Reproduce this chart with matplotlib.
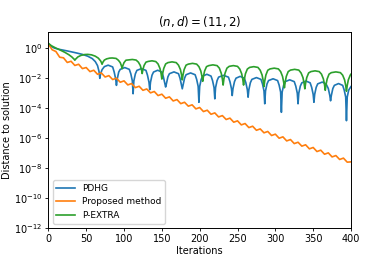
import numpy as np
import matplotlib.pyplot as plt

# values (log10 of distance), at selected iterations
pdhg_iter = [0, 3, 8, 15, 25, 35, 45, 52, 58, 62, 65, 67, 68, 69, 71, 74, 79,
             85, 87, 89, 90, 91, 93, 95, 101,
             107, 109, 111, 112, 113, 115, 117, 123,
             129, 131, 133, 134, 135, 137, 139, 144.5,
             150, 152, 154, 155, 156, 158, 160, 166,
             172, 174, 176, 177, 178, 180, 182, 188,
             194, 196, 198, 199, 200, 202, 204, 209.5,
             215, 217, 219, 220, 221, 223, 225, 231.5,
             238, 240, 242, 243, 244, 246, 248, 253.5,
             259, 261, 263, 264, 265, 267, 269, 275,
             281, 283, 285, 286, 287, 289, 291, 297,
             303, 305, 307, 308, 309, 311, 313, 319,
             325, 327, 329, 330, 331, 333, 335, 340.5,
             346, 348, 350, 351, 352, 354, 356, 362,
             367, 370, 372, 373, 374, 376, 378, 383.5,
             389, 391, 393, 394, 395, 397, 400]
pdhg_log = [0.32, 0.15, 0.02, -0.07, -0.17, -0.28, -0.40, -0.52, -0.68, -0.88, -1.15, -1.55, -2.0, -1.7, -1.42, -1.22, -1.12,
            -1.24, -1.58, -2.05, -2.47, -2.05, -1.58, -1.40, -1.28,
            -1.40, -1.70, -2.17, -3.03, -2.17, -1.70, -1.47, -1.35,
            -1.47, -1.79, -2.26, -2.76, -2.26, -1.79, -1.58, -1.46,
            -1.58, -1.90, -2.37, -2.58, -2.37, -1.90, -1.69, -1.57,
            -1.69, -1.99, -2.46, -2.70, -2.46, -1.99, -1.76, -1.64,
            -1.76, -2.07, -2.54, -3.60, -2.54, -2.07, -1.85, -1.73,
            -1.85, -2.15, -2.62, -3.37, -2.62, -2.15, -1.92, -1.80,
            -1.92, -2.22, -2.69, -3.15, -2.69, -2.22, -1.99, -1.87,
            -1.99, -2.29, -2.76, -3.26, -2.76, -2.29, -2.07, -1.95,
            -2.07, -2.37, -2.84, -3.70, -2.84, -2.37, -2.15, -2.03,
            -2.15, -2.45, -2.92, -4.27, -2.92, -2.45, -2.22, -2.10,
            -2.22, -2.52, -2.99, -3.70, -2.99, -2.52, -2.30, -2.18,
            -2.30, -2.60, -3.07, -3.60, -3.07, -2.60, -2.37, -2.25,
            -2.37, -2.68, -3.15, -3.50, -3.15, -2.68, -2.47, -2.35,
            -2.47, -2.78, -3.25, -4.83, -3.25, -2.78, -2.55]

prop_iter = list(range(0, 401, 5))
prop_log = [0.30, -0.09, -0.21, -0.59, -0.63, -0.94, -0.86, -1.14, -1.06, -1.35,
            -1.28, -1.55, -1.46, -1.73, -1.64, -1.91, -1.82, -2.08, -1.99, -2.26,
            -2.17, -2.44, -2.35, -2.62, -2.53, -2.80, -2.71, -2.97, -2.88, -3.15,
            -3.06, -3.33, -3.24, -3.51, -3.42, -3.69, -3.60, -3.86, -3.77, -4.04,
            -3.95, -4.22, -4.13, -4.40, -4.31, -4.58, -4.49, -4.75, -4.66, -4.93,
            -4.84, -5.11, -5.02, -5.29, -5.20, -5.47, -5.38, -5.64, -5.55, -5.82,
            -5.73, -6.00, -5.91, -6.18, -6.09, -6.36, -6.27, -6.53, -6.44, -6.71,
            -6.62, -6.89, -6.80, -7.07, -6.98, -7.25, -7.16, -7.42, -7.33, -7.60,
            -7.58]

extra_iter = [0, 4, 10, 16, 22, 27, 31, 34, 35, 36, 39, 43, 48, 52, 57, 62, 66, 69, 70, 71, 72, 74, 77, 81, 84.5,
              89.5, 92.5, 95, 96.5, 97.5, 98.5, 100, 102.5, 105.5, 111,
              116, 119, 121.5, 123, 124, 125, 126.5, 129, 132, 137,
              142, 145, 147.5, 149, 150, 151, 152.5, 155, 158, 163.5,
              169, 172, 174.5, 176, 177, 178, 179.5, 182, 185, 190.5,
              196, 199, 201.5, 203, 204, 205, 206.5, 209, 212, 217.5,
              223, 226, 228.5, 230, 231, 232, 233.5, 236, 239, 244.5,
              250, 253, 255.5, 257, 258, 259, 260.5, 263, 266, 271.5,
              277, 280, 282.5, 284, 285, 286, 287.5, 290, 293, 298.5,
              304, 307, 309.5, 311, 312, 313, 314.5, 317, 320, 325.5,
              331, 334, 336.5, 338, 339, 340, 341.5, 344, 347, 352.5,
              358, 361, 363.5, 365, 366, 367, 368.5, 371, 374, 380,
              386, 389, 391.5, 393, 394, 395, 396.5, 399, 400]
extra_log = [0.34, 0.18, 0.02, -0.12, -0.27, -0.42, -0.57, -0.72, -0.79, -0.72, -0.57, -0.47, -0.41, -0.40, -0.43, -0.52, -0.65, -0.83, -0.93, -1.06, -0.93, -0.78, -0.70, -0.65, -0.64,
             -0.67, -0.79, -0.95, -1.15, -1.35, -1.15, -0.95, -0.79, -0.77, -0.74,
             -0.78, -0.92, -1.14, -1.41, -1.68, -1.41, -1.14, -0.92, -0.87, -0.83,
             -0.88, -1.04, -1.34, -1.69, -2.05, -1.69, -1.34, -1.04, -0.95, -0.90,
             -0.95, -1.12, -1.41, -1.76, -2.10, -1.76, -1.41, -1.12, -1.05, -1.00,
             -1.05, -1.22, -1.51, -1.86, -2.20, -1.86, -1.51, -1.22, -1.15, -1.10,
             -1.15, -1.32, -1.66, -2.05, -2.45, -2.05, -1.66, -1.32, -1.20, -1.15,
             -1.20, -1.38, -1.69, -2.07, -2.45, -2.07, -1.69, -1.38, -1.27, -1.22,
             -1.27, -1.46, -1.78, -2.17, -2.55, -2.17, -1.78, -1.46, -1.37, -1.32,
             -1.37, -1.55, -1.87, -2.25, -2.63, -2.25, -1.87, -1.55, -1.45, -1.40,
             -1.45, -1.64, -1.95, -2.33, -2.70, -2.33, -1.95, -1.64, -1.55, -1.50,
             -1.55, -1.72, -2.04, -2.42, -2.80, -2.42, -2.04, -1.72, -1.62, -1.57,
             -1.62, -1.79, -2.10, -2.48, -2.86, -2.48, -2.10, -1.79, -1.72]

fig = plt.figure(figsize=(3.9, 2.6), dpi=100)
ax = fig.add_axes([0.124, 0.123, 0.776, 0.755])

ax.semilogy(pdhg_iter, 10 ** np.array(pdhg_log), color="tab:blue", lw=1.2, label="PDHG")
ax.semilogy(prop_iter, 10 ** np.array(prop_log), color="tab:orange", lw=1.2, label="Proposed method")
ax.semilogy(extra_iter, 10 ** np.array(extra_log), color="tab:green", lw=1.2, label="P-EXTRA")

ax.set_xlim(0, 400)
ax.set_ylim(1e-12, 13)
ax.set_xticks(np.arange(0, 401, 50))
ax.set_yticks([10.0 ** k for k in range(0, -13, -2)])
ax.tick_params(labelsize=7, length=2.5, width=0.6, pad=2)
ax.minorticks_off()
for s in ax.spines.values():
    s.set_linewidth(0.7)

ax.set_title("$(n, d) = (11, 2)$", fontsize=8.5, pad=4)
ax.set_xlabel("Iterations", fontsize=7, labelpad=1)
ax.set_ylabel("Distance to solution", fontsize=7, labelpad=1)
ax.legend(loc="lower left", fontsize=6.5, handlelength=2.0)

fig.savefig("out.png", dpi=100)
